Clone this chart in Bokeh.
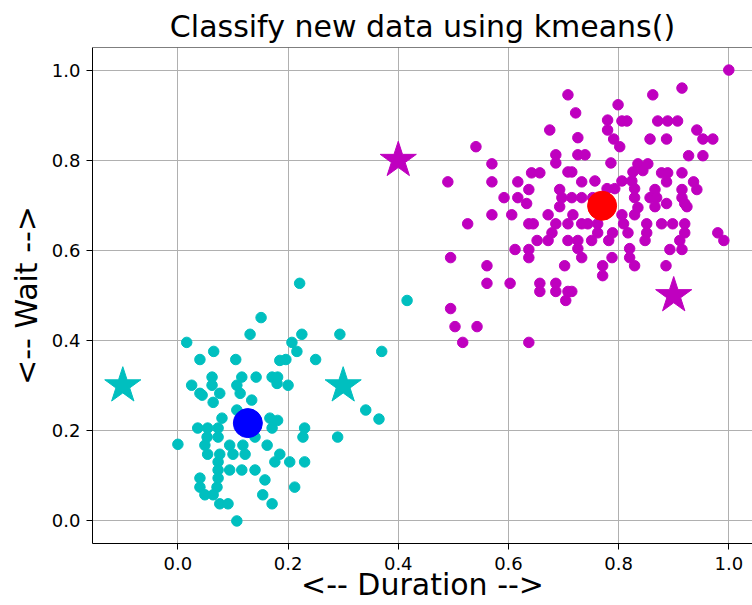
from bokeh.plotting import figure
from bokeh.models import FixedTicker, PrintfTickFormatter, Span, Range1d
from bokeh.embed import file_html
from bokeh.resources import INLINE

# cluster 0 (cyan) observations: normalised duration / wait
cyan_x = [0.151, 0.131, 0.016, 0.065, 0.040, 0.105, 0.062, 0.116, 0.142, 0.171,
          0.025, 0.062, 0.107, 0.180, 0.040, 0.076, 0.113, 0.134, 0.185, 0.221,
          0.225, 0.294, 0.207, 0.216, 0.250, 0.196, 0.370, 0.181, 0.200, 0.044,
          0.064, 0.107, 0.080, 0.167, 0.181, 0.036, 0.054, 0.073, 0.171, 0.053,
          0.073, 0.140, 0.000, 0.049, 0.094, 0.118, 0.162, 0.054, 0.076, 0.100,
          0.122, 0.073, 0.176, 0.073, 0.094, 0.116, 0.140, 0.040, 0.073, 0.158,
          0.040, 0.071, 0.049, 0.064, 0.154, 0.076, 0.091, 0.171, 0.107, 0.230,
          0.227, 0.290, 0.341, 0.365, 0.185, 0.203, 0.230, 0.212, 0.416]
cyan_y = [0.451, 0.414, 0.396, 0.376, 0.358, 0.358, 0.319, 0.319, 0.319, 0.319,
          0.301, 0.301, 0.301, 0.305, 0.283, 0.283, 0.283, 0.268, 0.356, 0.527,
          0.414, 0.414, 0.396, 0.376, 0.358, 0.358, 0.376, 0.319, 0.301, 0.279,
          0.263, 0.246, 0.228, 0.228, 0.223, 0.206, 0.206, 0.206, 0.206, 0.186,
          0.186, 0.186, 0.170, 0.168, 0.168, 0.168, 0.168, 0.148, 0.148, 0.148,
          0.148, 0.131, 0.131, 0.113, 0.113, 0.113, 0.113, 0.095, 0.095, 0.091,
          0.075, 0.075, 0.058, 0.058, 0.058, 0.038, 0.038, 0.038, 0.000, 0.206,
          0.186, 0.186, 0.246, 0.226, 0.148, 0.131, 0.131, 0.075, 0.489]

# cluster 1 (magenta) observations
magenta_x = [0.541, 0.570, 0.490, 0.570, 0.617, 0.642, 0.657, 0.637, 0.592, 0.617,
             0.633, 0.708, 0.799, 0.722, 0.780, 0.806, 0.815, 0.675, 0.780, 0.726,
             0.791, 0.802, 0.686, 0.726, 0.739, 0.686, 0.786, 0.835, 0.708, 0.715,
             0.826, 0.733, 0.757, 0.806, 0.824, 0.693, 0.779, 0.793, 0.829, 0.697,
             0.715, 0.733, 0.753, 0.829, 1.000, 0.915, 0.862, 0.871, 0.889, 0.907,
             0.942, 0.953, 0.971, 0.857, 0.887, 0.927, 0.953, 0.853, 0.844, 0.878,
             0.889, 0.915, 0.887, 0.936, 0.942, 0.866, 0.915, 0.857, 0.869, 0.915,
             0.887, 0.920, 0.570, 0.606, 0.526, 0.637, 0.645, 0.652, 0.612, 0.637,
             0.495, 0.637, 0.561, 0.561, 0.603, 0.657, 0.657, 0.495, 0.503, 0.543,
             0.517, 0.637, 0.693, 0.672, 0.717, 0.806, 0.829, 0.686, 0.708, 0.733,
             0.744, 0.762, 0.809, 0.679, 0.762, 0.789, 0.817, 0.672, 0.708, 0.726,
             0.751, 0.782, 0.726, 0.733, 0.788, 0.820, 0.820, 0.829, 0.702, 0.771,
             0.771, 0.686, 0.686, 0.708, 0.715, 0.704, 0.835, 0.866, 0.924, 0.851,
             0.878, 0.898, 0.920, 0.851, 0.920, 0.980, 0.991, 0.848, 0.911, 0.893,
             0.915, 0.886]
magenta_y = [0.830, 0.792, 0.752, 0.752, 0.752, 0.772, 0.772, 0.735, 0.717, 0.717,
             0.704, 0.945, 0.923, 0.905, 0.889, 0.887, 0.887, 0.867, 0.867, 0.850,
             0.847, 0.830, 0.812, 0.812, 0.812, 0.794, 0.794, 0.792, 0.774, 0.774,
             0.774, 0.752, 0.754, 0.754, 0.754, 0.735, 0.737, 0.737, 0.737, 0.717,
             0.717, 0.717, 0.717, 0.717, 1.000, 0.960, 0.945, 0.887, 0.887, 0.887,
             0.867, 0.847, 0.847, 0.847, 0.847, 0.810, 0.810, 0.792, 0.777, 0.772,
             0.772, 0.772, 0.752, 0.752, 0.735, 0.735, 0.735, 0.717, 0.717, 0.717,
             0.704, 0.704, 0.679, 0.679, 0.659, 0.659, 0.659, 0.622, 0.602, 0.602,
             0.584, 0.584, 0.566, 0.527, 0.527, 0.527, 0.509, 0.471, 0.431, 0.431,
             0.396, 0.396, 0.697, 0.679, 0.679, 0.679, 0.679, 0.659, 0.659, 0.659,
             0.659, 0.659, 0.659, 0.639, 0.639, 0.639, 0.639, 0.622, 0.622, 0.622,
             0.622, 0.622, 0.604, 0.584, 0.584, 0.604, 0.584, 0.566, 0.566, 0.566,
             0.544, 0.527, 0.509, 0.509, 0.509, 0.489, 0.695, 0.697, 0.697, 0.659,
             0.659, 0.659, 0.659, 0.639, 0.639, 0.639, 0.622, 0.622, 0.622, 0.602,
             0.602, 0.566]

# cluster centres
centroid_x = [0.127, 0.770]
centroid_y = [0.217, 0.699]
centroid_colors = ["#0000ff", "#ff0000"]

# new data classified
new_x = [-0.1, 0.3, 0.4, 0.9]
new_y = [0.3, 0.3, 0.8, 0.5]
new_colors = ["#00bfbf", "#00bfbf", "#bf00bf", "#bf00bf"]

tick_values = [0.0, 0.2, 0.4, 0.6, 0.8, 1.0]

FONT = "DejaVu Sans"

p = figure(width=752, height=605, output_backend="svg", toolbar_location=None,
           x_range=Range1d(-0.155, 1.043), y_range=Range1d(-0.05, 1.05),
           min_border_left=92, min_border_right=0, min_border_top=47,
           min_border_bottom=62, title="Classify new data using kmeans()")

p.title.text_font = FONT
p.title.text_font_size = "30px"
p.title.text_font_style = "normal"
p.title.text_color = "#000000"
p.title.align = "center"
p.title.standoff = 7

p.outline_line_color = None
p.background_fill_color = "white"
p.border_fill_color = "white"

xt = FixedTicker(ticks=tick_values)
yt = FixedTicker(ticks=tick_values)
p.xaxis.ticker = xt
p.yaxis.ticker = yt
p.xgrid.ticker = xt
p.ygrid.ticker = yt
p.grid.grid_line_color = "#b0b0b0"
p.grid.grid_line_width = 1

for ax in (p.xaxis[0], p.yaxis[0]):
    ax.formatter = PrintfTickFormatter(format="%.1f")
    ax.axis_line_color = "black"
    ax.axis_line_width = 1
    ax.major_tick_line_color = "black"
    ax.major_tick_out = 6
    ax.major_tick_in = 0
    ax.minor_tick_line_color = None
    ax.major_label_text_font = FONT
    ax.major_label_text_font_size = "18px"
    ax.major_label_text_color = "#000000"
    ax.axis_label_text_font = FONT
    ax.axis_label_text_font_style = "normal"
    ax.axis_label_text_color = "#000000"
    ax.axis_label_text_font_size = "30px"

p.xaxis.axis_label = "<-- Duration -->"
p.xaxis.major_label_standoff = 7
p.xaxis.axis_label_standoff = -6
p.yaxis.axis_label = "<-- Wait -->"
p.yaxis.major_label_standoff = 6
p.yaxis.axis_label_standoff = 5

p.add_layout(Span(location=1.05, dimension="width", line_color="black", line_width=1))

p.scatter(cyan_x, cyan_y, size=10.5, color="#00bfbf")
p.scatter(magenta_x, magenta_y, size=10.5, color="#bf00bf")
p.scatter(centroid_x, centroid_y, size=29, color=centroid_colors)
p.scatter(new_x, new_y, marker="star", size=38, color=new_colors)

open("out.html", "w").write(file_html(p, INLINE))
